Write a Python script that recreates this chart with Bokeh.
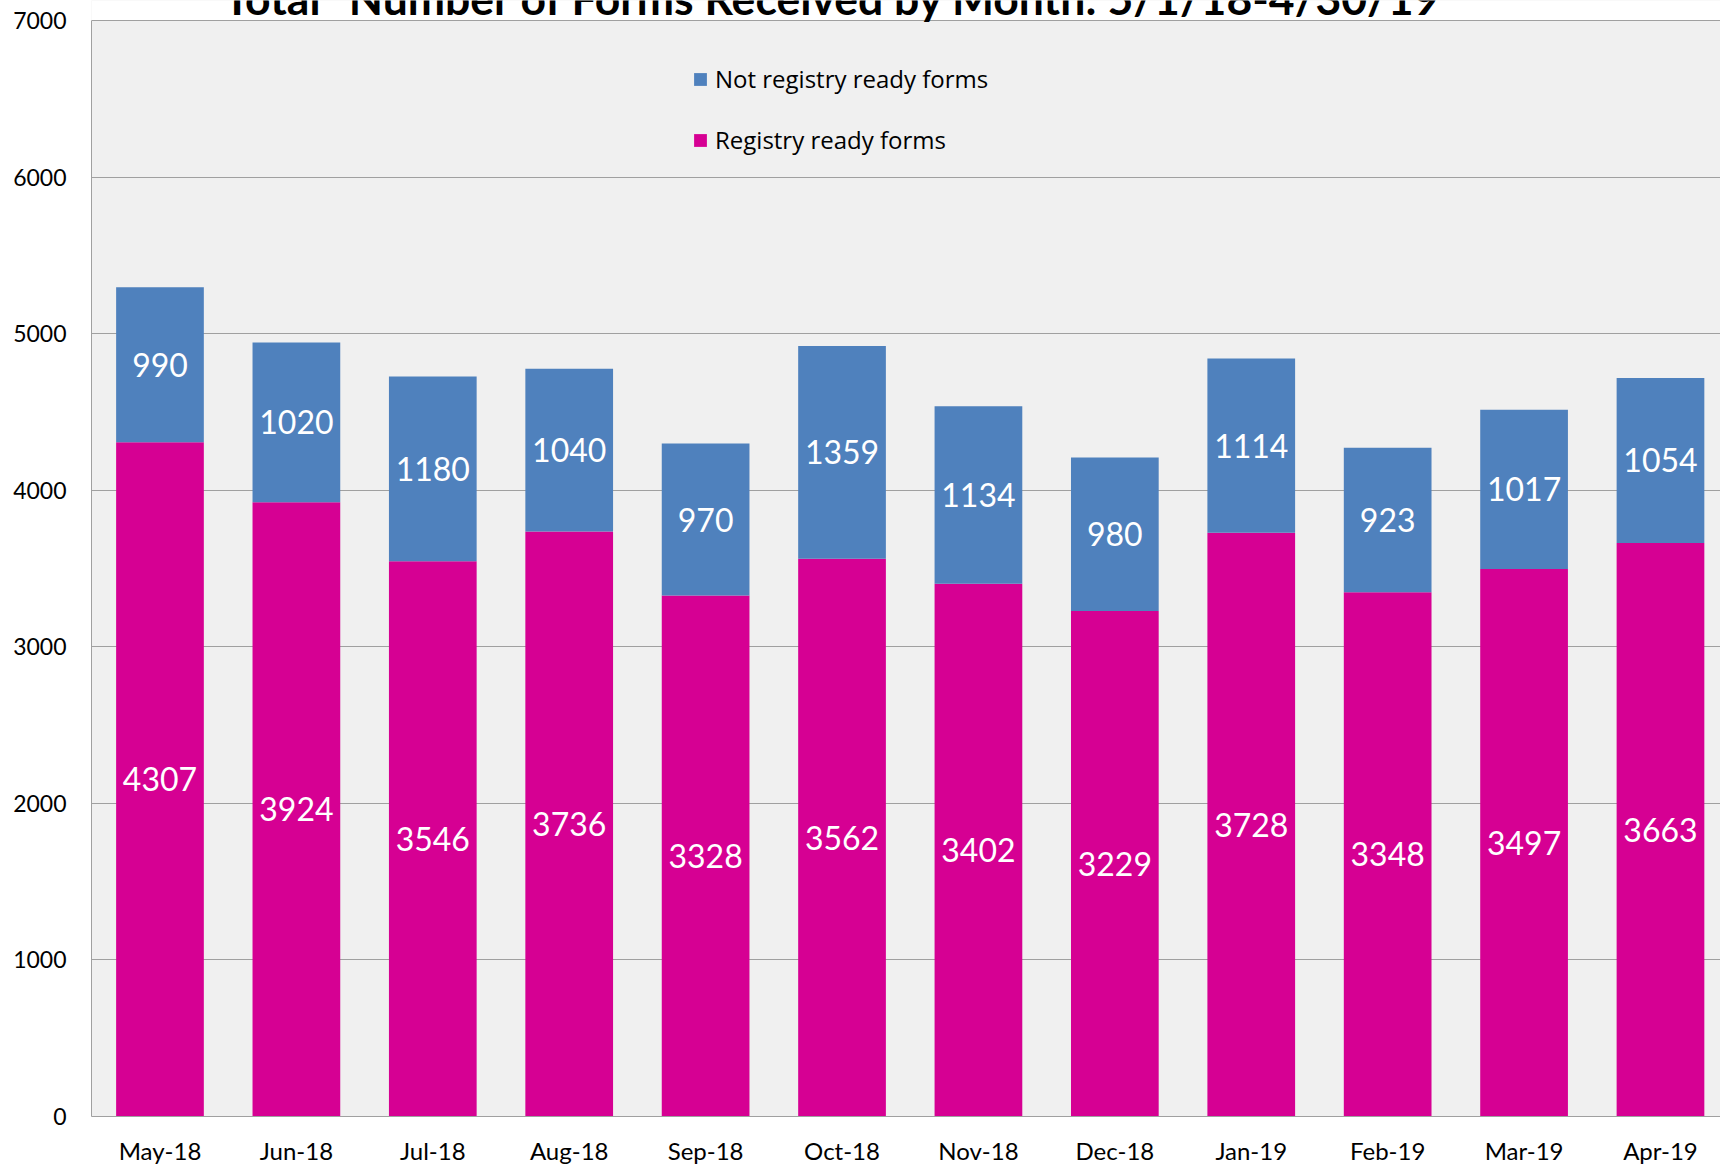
import numpy as np
from bokeh.plotting import figure
from bokeh.models import (ColumnDataSource, FixedTicker, Legend, LegendItem, Range1d, BoxAnnotation)
from bokeh.core.properties import value
from bokeh.embed import file_html
from bokeh.resources import INLINE

# ---- data ----
months = ["May-18", "Jun-18", "Jul-18", "Aug-18", "Sep-18", "Oct-18",
          "Nov-18", "Dec-18", "Jan-19", "Feb-19", "Mar-19", "Apr-19"]
registry_ready = [4307, 3924, 3546, 3736, 3328, 3562, 3402, 3229, 3728, 3348, 3497, 3663]
not_registry_ready = [990, 1020, 1180, 1040, 970, 1359, 1134, 980, 1114, 923, 1017, 1054]
y_ticks = [0, 1000, 2000, 3000, 4000, 5000, 6000, 7000]
title_text = 'Total" Number of Forms Received by Month: 5/1/18-4/30/19'

PINK = "#D60093"
BLUE = "#4F81BD"
FONT = "Lato"
Y_MAX = 7000

x = list(range(len(months)))
reg = np.array(registry_ready, dtype=float)
nreg = np.array(not_registry_ready, dtype=float)

src = ColumnDataSource(dict(
    x=x, reg=registry_ready, nreg=not_registry_ready,
    reg_mid=(reg / 2).tolist(), nreg_mid=(reg + nreg / 2).tolist(),
    reg_lbl=[str(v) for v in registry_ready],
    nreg_lbl=[str(v) for v in not_registry_ready],
))

# frame reaches the canvas top; the band above 7000 is painted white so the
# title can sit there and be cut by the page edge as in the original
p = figure(width=1720, height=1167, output_backend="svg", toolbar_location=None,
           x_range=Range1d(-0.502, 11.44), y_range=Range1d(0, Y_MAX + 128),
           min_border_left=91, min_border_right=0, min_border_top=0, min_border_bottom=50)

p.background_fill_color = "#F0F0F0"
p.border_fill_color = "white"
p.outline_line_color = None

p.add_layout(BoxAnnotation(bottom=Y_MAX, fill_color="white", fill_alpha=1,
                           line_color=None, level="image"))

renderers = p.vbar_stack(["reg", "nreg"], x="x", width=0.643, color=[PINK, BLUE],
                         line_color=None, source=src)

# data labels
for col_y, col_t in (("reg_mid", "reg_lbl"), ("nreg_mid", "nreg_lbl")):
    p.text(x="x", y=col_y, text=col_t, source=src, text_color="white",
           text_align="center", text_baseline="middle",
           text_font=value(FONT), text_font_size="32px")

# axes
p.yaxis.ticker = FixedTicker(ticks=y_ticks)
p.yaxis.bounds = (0, Y_MAX)
p.xaxis.ticker = FixedTicker(ticks=x)
p.xaxis.major_label_overrides = {i: m for i, m in enumerate(months)}
for ax in (p.xaxis, p.yaxis):
    ax.major_tick_in = 0
    ax.major_tick_out = 0
    ax.minor_tick_in = 0
    ax.minor_tick_out = 0
    ax.axis_line_color = "#A0A0A0"
    ax.axis_line_width = 1
    ax.major_label_text_font = FONT
    ax.major_label_text_color = "black"
p.yaxis.major_label_text_font_size = "23px"
p.xaxis.major_label_text_font_size = "24px"
p.yaxis.major_label_standoff = 25
p.xaxis.major_label_standoff = 19

p.xgrid.grid_line_color = None
p.ygrid.grid_line_color = "#A0A0A0"
p.ygrid.grid_line_width = 1

# legend
legend = Legend(items=[LegendItem(label="Not registry ready forms", renderers=[renderers[1]]),
                       LegendItem(label="Registry ready forms", renderers=[renderers[0]])],
                location=(601, 960), orientation="vertical",
                glyph_width=16, glyph_height=16, label_height=30, spacing=28,
                label_standoff=7, padding=0, margin=0,
                background_fill_alpha=0, border_line_color=None,
                label_text_font="Open Sans", label_text_font_size="24px",
                label_text_color="black")
p.add_layout(legend)

# title (partially cut off at top, as in the original)
p.text(x=[4.934], y=[Y_MAX + 38], text=[title_text], text_align="center",
       text_baseline="alphabetic", y_offset=-17, text_font=value(FONT),
       text_font_style="bold", text_font_size="44.5px", text_color="black")

open("out.html", "w").write(file_html(p, INLINE))
